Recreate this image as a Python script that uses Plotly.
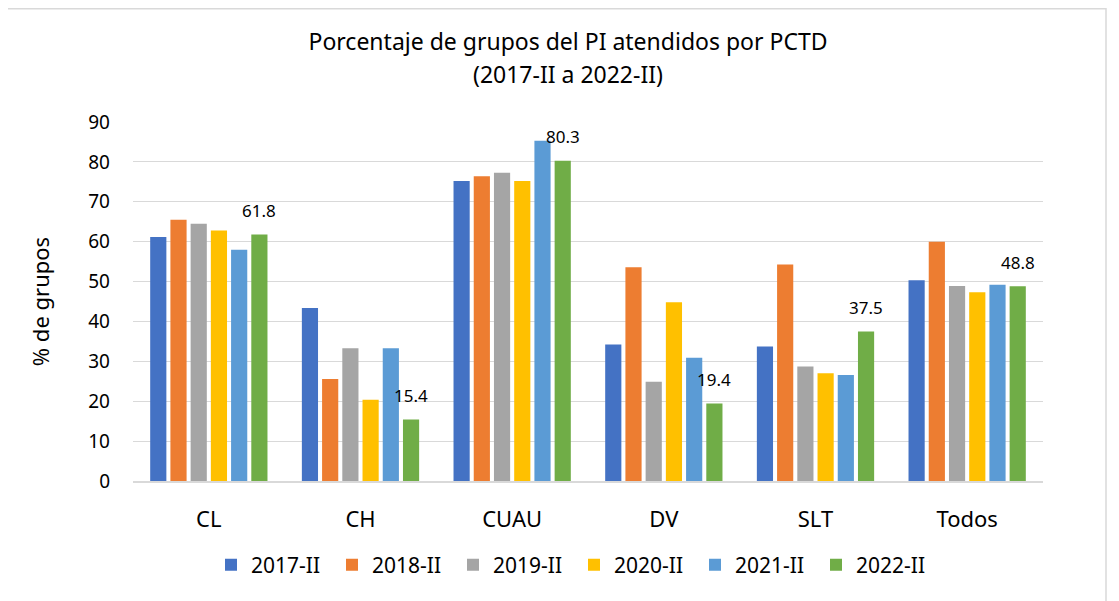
import plotly.graph_objects as go

categories = ["CL", "CH", "CUAU", "DV", "SLT", "Todos"]
series_names = ["2017-II", "2018-II", "2019-II", "2020-II", "2021-II", "2022-II"]
v2017 = [61.2, 43.4, 75.2, 34.2, 33.7, 50.3]
v2018 = [65.5, 25.6, 76.4, 53.6, 54.3, 60.0]
v2019 = [64.5, 33.3, 77.3, 24.9, 28.7, 48.9]
v2020 = [62.8, 20.4, 75.2, 44.8, 27.0, 47.3]
v2021 = [58.0, 33.3, 85.3, 30.9, 26.6, 49.2]
v2022 = [61.8, 15.4, 80.3, 19.4, 37.5, 48.8]
colors = ["#4472C4", "#ED7D31", "#A5A5A5", "#FFC000", "#5B9BD5", "#70AD47"]
title_line1 = "Porcentaje de grupos del PI atendidos por PCTD"
title_line2 = "(2017-II a 2022-II)"

all_vals = [v2017, v2018, v2019, v2020, v2021, v2022]
FONT = "Noto Sans"
BLACK = "#000000"

# figure geometry (page body has an 8px margin)
W, H = 1111, 593
ML, MR, MT, MB = 125, 76, 114, 120
PW, PH = W - ML - MR, H - MT - MB
BARGAP = 0.2

fig = go.Figure()
for name, vals, col in zip(series_names, all_vals, colors):
    fig.add_trace(go.Bar(x=categories, y=vals, name=name, marker_color=col,
                         marker_line_width=0))

# data labels for the last series, placed over its bars
n = len(series_names)
k = n - 1
offset = (k - (n - 1) / 2) * (1 - BARGAP) / n
annotations = [
    dict(x=i + offset, y=v, xref="x", yref="y", text=f"{v:.1f}", showarrow=False,
         yanchor="middle", yshift=24, font=dict(size=17, family=FONT, color=BLACK))
    for i, v in enumerate(v2022)
]
annotations.append(dict(text=title_line2, x=(560 - ML) / PW, xref="paper",
                        y=(H - 66 - MB) / PH, yref="paper", yanchor="middle",
                        xanchor="center", showarrow=False,
                        font=dict(size=23, family=FONT, color=BLACK)))

fig.update_layout(
    width=W, height=H,
    paper_bgcolor="white", plot_bgcolor="white",
    margin=dict(l=ML, r=MR, t=MT, b=MB, autoexpand=False),
    barmode="group", bargap=BARGAP, bargroupgap=0.2,
    font=dict(family=FONT, color=BLACK),
    title=dict(text=title_line1,
               x=(568 - 8) / W, xref="container", xanchor="center",
               y=1 - 34 / H, yref="container", yanchor="middle",
               font=dict(size=23, family=FONT, color=BLACK)),
    yaxis=dict(range=[0, 90], dtick=10, showgrid=True, gridcolor="#D9D9D9", gridwidth=1,
               zeroline=False, showline=False, ticks="",
               tickfont=dict(size=19, family=FONT, color=BLACK),
               ticklabelstandoff=22,
               title=dict(text="% de grupos", font=dict(size=22, family=FONT, color=BLACK),
                          standoff=32)),
    xaxis=dict(showline=True, linecolor="#D9D9D9", linewidth=1.5, ticks="",
               tickfont=dict(size=22, family=FONT, color=BLACK),
               ticklabelstandoff=18),
    legend=dict(orientation="h", x=(574 - 8) / W, xref="container", xanchor="center",
                y=1 - (565 - 8) / H, yref="container", yanchor="middle",
                font=dict(size=21, family=FONT, color=BLACK),
                entrywidth=76, itemwidth=30, traceorder="normal"),
    annotations=annotations,
    shapes=[dict(type="rect", xref="paper", yref="paper",
                 x0=(-1 - ML) / PW, x1=(1098 - ML) / PW,
                 y0=-(MB + 30) / PH, y1=(PH + MT - 0.75) / PH,
                 line=dict(color="#D9D9D9", width=1.5), fillcolor="rgba(0,0,0,0)", layer="below")],
)

fig.write_html("out.html")
